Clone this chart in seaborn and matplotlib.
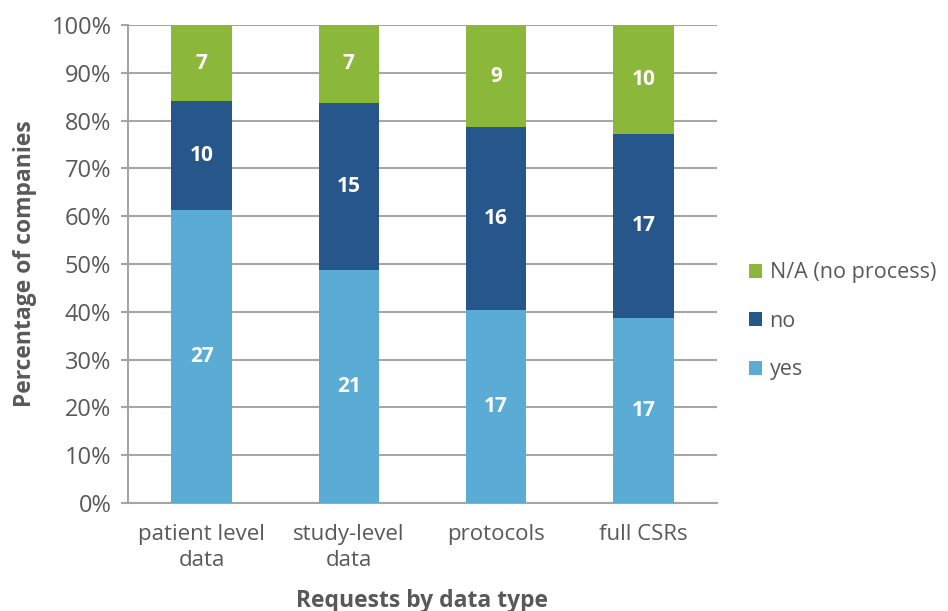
import matplotlib
matplotlib.use("Agg")
import matplotlib.pyplot as plt
import seaborn as sns
import pandas as pd
import numpy as np
from matplotlib.patches import Patch

categories = ["patient level\ndata", "study-level\ndata", "protocols", "full CSRs"]
yes_counts = [27, 21, 17, 17]
no_counts = [10, 15, 16, 17]
na_counts = [7, 7, 9, 10]
series_names = ["yes", "no", "N/A (no process)"]
colors = {"yes": "#5BACD4", "no": "#27568A", "N/A (no process)": "#8BB73B"}
y_ticks = list(range(0, 101, 10))

sns.set_theme(style="white")
plt.rcParams["font.family"] = ["Open Sans", "DejaVu Sans"]

yes = np.array(yes_counts, float)
no = np.array(no_counts, float)
na = np.array(na_counts, float)
tot = yes + no + na
df = pd.DataFrame({
    "cat": categories,
    "yes_pct": yes / tot * 100,
    "no_top": (yes + no) / tot * 100,
    "na_top": tot / tot * 100,
})

fig = plt.figure(figsize=(9.48, 6.11), dpi=100)
ax = fig.add_axes([128 / 948, 108 / 611, (717 - 128) / 948, (503 - 25) / 611])

grid_c = "#A6A6A6"
txt_c = "#595959"
for t in y_ticks:
    ax.axhline(t, color=grid_c, lw=1.5, zorder=0)

w = 0.41
sns.barplot(data=df, x="cat", y="na_top", color=colors["N/A (no process)"], width=w,
            saturation=1, ax=ax, zorder=2, linewidth=0)
sns.barplot(data=df, x="cat", y="no_top", color=colors["no"], width=w,
            saturation=1, ax=ax, zorder=3, linewidth=0)
sns.barplot(data=df, x="cat", y="yes_pct", color=colors["yes"], width=w,
            saturation=1, ax=ax, zorder=4, linewidth=0)

for i in range(len(categories)):
    y0 = df["yes_pct"][i]
    y1 = df["no_top"][i]
    for val, yc in ((yes_counts[i], y0 / 2), (no_counts[i], (y0 + y1) / 2),
                    (na_counts[i], (y1 + 100) / 2)):
        ax.text(i, yc, str(val), ha="center", va="center", color="white",
                fontsize=15, fontweight="bold", zorder=5)

ax.set_xlim(-0.5, len(categories) - 0.5)
ax.set_ylim(0, 100)
ax.set_yticks(y_ticks)
ax.set_yticklabels([f"{t}%" for t in y_ticks])
ax.set_xticks(range(len(categories)))
ax.set_xticklabels(categories, linespacing=1.3)
ax.set_xticks(np.arange(-0.5, len(categories)), minor=True)
ax.tick_params(axis="x", which="major", length=0, pad=15, labelsize=16, labelcolor=txt_c)
ax.tick_params(axis="x", which="minor", length=5, width=1.5, color=grid_c, direction="out")
ax.tick_params(axis="y", length=5, width=1.5, color=grid_c, direction="out", pad=7,
               labelsize=17, labelcolor=txt_c)
ax.xaxis.set_tick_params(bottom=True)
ax.yaxis.set_tick_params(left=True)

for s in ["top", "right"]:
    ax.spines[s].set_visible(False)
for s in ["left", "bottom"]:
    ax.spines[s].set_color(grid_c)
    ax.spines[s].set_linewidth(1.5)

ax.set_xlabel("Requests by data type", fontsize=16.5, fontweight="bold", color=txt_c, labelpad=13)
ax.set_ylabel("Percentage of companies", fontsize=16.5, fontweight="bold", color=txt_c, labelpad=10)

handles = [Patch(facecolor=colors[n], edgecolor="none") for n in ["N/A (no process)", "no", "yes"]]
leg = ax.legend(handles, ["N/A (no process)", "no", "yes"], loc="center left",
                bbox_to_anchor=(1.04, 0.38), frameon=False, fontsize=15.5,
                labelcolor=txt_c, handlelength=0.6, handleheight=0.6,
                handletextpad=0.35, labelspacing=1.28, borderaxespad=0)

fig.savefig("out.png", dpi=100)
